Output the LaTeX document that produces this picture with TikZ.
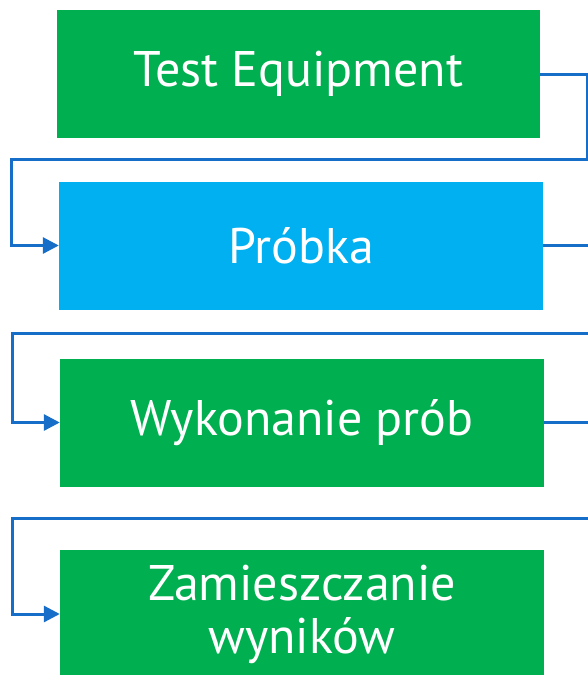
\documentclass[tikz,border=0pt]{standalone}
\usepackage{fontspec}
\setmainfont{PT Sans}
\usetikzlibrary{arrows.meta}
\definecolor{boxgreen}{RGB}{0,176,80}
\definecolor{boxblue}{RGB}{0,176,240}
\definecolor{linkblue}{RGB}{22,110,200}
\tikzset{
  stage/.style={fill=boxgreen, text=white, inner sep=0pt, align=center,
    minimum width=484pt, minimum height=128pt,
    font=\fontsize{50}{53}\selectfont},
  link/.style={draw=linkblue, line width=3pt,
    -{Triangle[length=16pt,width=16pt]}},
}
\begin{document}
\begin{tikzpicture}[x=1pt,y=-1pt]
    \useasboundingbox (0,0) rectangle (588,675);
    \node[stage, minimum width=483pt] (equip) at (298.5,74) {Test Equipment};
    \node[stage, fill=boxblue] (sample) at (301,245.5) {Próbka};
    \node[stage] (tests) at (302,422.5) {Wykonanie prób};
    \node[stage] (results) at (302,614) {Zamieszczanie\\wyników};
    % connectors
    \coordinate (r1) at (587,159);
    \coordinate (l1) at (11,159);
    \coordinate (r2) at (600,333);
    \coordinate (l2) at (12,333);
    \coordinate (r3) at (600,518);
    \coordinate (l3) at (12,518);
    \draw[link] (equip.east) -| (r1) -- (l1) |- (sample.west);
    \draw[link] (sample.east) -| (r2) -- (l2) |- (tests.west);
    \draw[link] (tests.east) -| (r3) -- (l3) |- (results.west);
\end{tikzpicture}
\end{document}
